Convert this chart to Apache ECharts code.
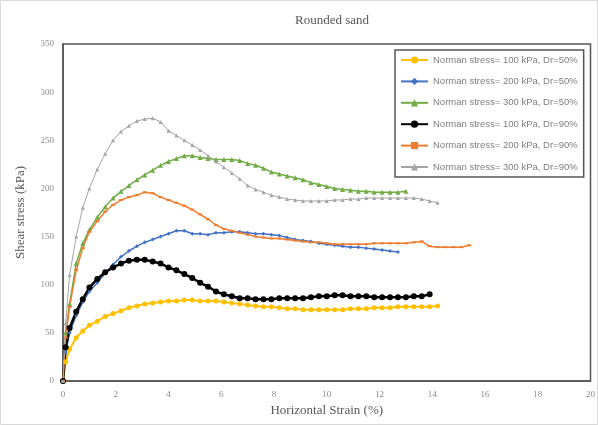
<!DOCTYPE html>
<html>
<head>
<meta charset="utf-8">
<script src="https://cdn.jsdelivr.net/npm/echarts@6/dist/echarts.min.js"></script>
<style>
html,body{margin:0;padding:0;background:#fff;}
#chart{width:598px;height:425px;}
</style>
</head>
<body>
<div id="chart"></div>
<script>
const titleText = 'Rounded sand';
const xName = 'Horizontal Strain (%)';
const yName = 'Shear stress (kPa)';
const seriesNames = [
  'Norman stress= 100 kPa, Dr=50%',
  'Norman stress= 200 kPa, Dr=50%',
  'Norman stress= 300 kPa, Dr=50%',
  'Norman stress= 100 kPa, Dr=90%',
  'Norman stress= 200 kPa, Dr=90%',
  'Norman stress= 300 kPa, Dr=90%'
];
const strain = [0,0.1,0.25,0.5,0.75,1.0,1.3,1.6,1.9,2.2,2.5,2.8,3.1,3.4,3.7,4.0,4.3,4.6,4.9,5.2,5.5,5.8,6.1,6.4,6.7,7.0,7.3,7.6,7.9,8.2,8.5,8.8,9.1,9.4,9.7,10.0,10.3,10.6,10.9,11.2,11.5,11.8,12.1,12.4,12.7,13.0,13.3,13.6,13.9,14.2,14.5,14.8,15.1,15.4];
const s100d50 = [0,20,33,45,52,58,62,67,70,73,76,78,80,81,82,83,83,84,84,83,83,83,82,81,80,79,78,77,77,76,75,75,74,74,74,74,74,74,75,75,75,76,76,76,77,77,77,77,77,78];
const s200d50 = [0,30,50,68,82,93,102,112,121,129,135,140,144,147,150,153,156,156,153,153,152,154,154,155,155,154,153,153,152,151,149,147,146,145,143,142,141,140,139,139,138,137,136,135,134];
const s300d50 = [0,50,80,122,143,157,170,181,190,197,203,209,214,219,224,228,231,234,234,232,231,230,230,230,229,226,224,221,217,215,213,211,209,206,204,202,200,199,198,197,197,196,196,196,196,197];
const s100d90 = [0,35,55,72,85,97,106,113,118,122,125,126,126,124,122,118,115,111,107,102,98,93,90,88,86,86,85,85,85,86,86,86,86,87,88,88,89,89,88,88,88,87,87,87,87,87,88,88,90];
const s200d90 = [0,45,77,115,138,155,166,176,183,188,191,193,196,195,191,188,185,182,178,173,168,162,158,156,154,152,150,149,148,148,147,146,145,144,144,143,142,142,142,142,142,143,143,143,143,143,144,145,140,139,139,139,139,141];
const s300d90 = [0,60,110,150,180,200,220,236,250,259,265,270,272,273,269,260,255,250,245,240,234,228,222,216,210,203,199,196,193,191,189,188,187,187,187,187,188,188,189,189,190,190,190,190,190,190,190,189,187,185];
const xTicks = [0,2,4,6,8,10,12,14,16,18,20];
const yTicks = [0,50,100,150,200,250,300,350];

const allValues = [s100d50, s200d50, s300d50, s100d90, s200d90, s300d90];
const styles = [
  {color:'#FFC000', width:2, symbol:'circle', size:5},
  {color:'#4472C4', width:1.5, symbol:'diamond', size:4},
  {color:'#70AD47', width:1.5, symbol:'triangle', size:5},
  {color:'#000000', width:2.5, symbol:'circle', size:6},
  {color:'#ED7D31', width:1.5, symbol:'rect', size:[4,2]},
  {color:'#A5A5A5', width:1, symbol:'triangle', size:4}
];
function pairs(vals){ return vals.map((v,i)=>[strain[i], v]); }

const chart = echarts.init(document.getElementById('chart'), null, {renderer:'canvas'});
const option = {
  animation:false,
  backgroundColor:'#fff',
  graphic:[{type:'rect', shape:{x:0.5,y:0.5,width:597,height:424}, style:{fill:'none', stroke:'#d9d9d9', lineWidth:1}, silent:true}],
  title:{
    text:titleText, left:327, top:9, textAlign:'center',
    textStyle:{fontFamily:'Liberation Serif', fontSize:13, fontWeight:'normal', color:'#595959'}
  },
  grid:{left:63, right:7, top:44, bottom:44, show:true, borderColor:'#555', borderWidth:1.5, backgroundColor:'transparent'},
  legend:{
    orient:'vertical', left:395, top:50,
    data:seriesNames,
    itemWidth:27, itemHeight:9, itemGap:11.4,
    padding:[5,6,5,5],
    backgroundColor:'#fff', borderColor:'#555', borderWidth:1.5,
    textStyle:{fontFamily:'Liberation Sans', fontSize:9.5, color:'#7f7f7f'}
  },
  xAxis:{
    type:'value', min:xTicks[0], max:xTicks[xTicks.length-1], interval:2,
    name:xName, nameLocation:'middle', nameGap:22,
    nameTextStyle:{fontFamily:'Liberation Serif', fontSize:13, color:'#595959'},
    axisLine:{lineStyle:{color:'#555', width:1.5}},
    axisTick:{show:false},
    splitLine:{show:false},
    axisLabel:{fontFamily:'Liberation Serif', fontSize:9, color:'#8c8c8c', margin:9}
  },
  yAxis:{
    type:'value', min:yTicks[0], max:yTicks[yTicks.length-1], interval:50,
    name:yName, nameLocation:'middle', nameGap:36,
    nameTextStyle:{fontFamily:'Liberation Serif', fontSize:13, color:'#595959'},
    axisLine:{show:true, lineStyle:{color:'#555', width:1.5}},
    axisTick:{show:false},
    splitLine:{show:false},
    axisLabel:{fontFamily:'Liberation Serif', fontSize:9, color:'#8c8c8c', margin:9}
  },
  series: allValues.map((vals, k)=>({
    name:seriesNames[k], type:'line', data:pairs(vals),
    symbol:styles[k].symbol, symbolSize:styles[k].size, showSymbol:true,
    lineStyle:{color:styles[k].color, width:styles[k].width},
    itemStyle:{color:styles[k].color},
    z: 2
  }))
};
chart.setOption(option);
</script>
</body>
</html>
